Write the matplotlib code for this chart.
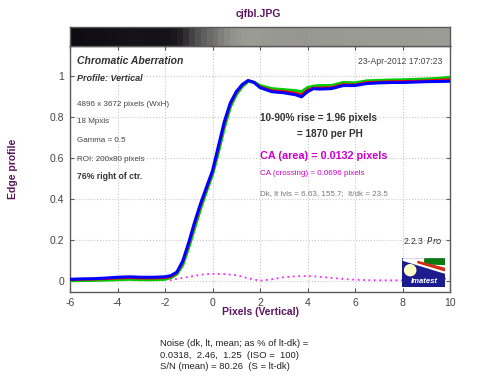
import matplotlib
matplotlib.use("Agg")
import matplotlib.pyplot as plt
import numpy as np
from matplotlib.colors import LinearSegmentedColormap
from matplotlib.patches import Polygon, Ellipse, Rectangle

plt.rcParams["font.family"] = ["Liberation Sans", "DejaVu Sans"]
plt.rcParams["axes.unicode_minus"] = False

# ---- edge profile data ----
x_px = [-6, -5.5, -5, -4.5, -4, -3.5, -3, -2.5, -2, -1.75, -1.5, -1.25, -1,
        -0.75, -0.5, -0.25, 0, 0.25, 0.5, 0.75, 1.0, 1.25, 1.5, 1.75, 2.0,
        2.5, 3.0, 3.5, 3.75, 4.0, 4.25, 4.5, 5.0, 5.5, 6.0, 6.5, 7.0, 7.5,
        8.0, 8.5, 9.0, 9.5, 10]
blue = [0.010, 0.012, 0.013, 0.016, 0.020, 0.022, 0.020, 0.020, 0.022, 0.028,
        0.045, 0.100, 0.190, 0.290, 0.380, 0.460, 0.540, 0.660, 0.780, 0.870,
        0.925, 0.960, 0.980, 0.970, 0.945, 0.925, 0.920, 0.910, 0.900, 0.925,
        0.940, 0.938, 0.940, 0.955, 0.955, 0.965, 0.968, 0.970, 0.970, 0.972,
        0.974, 0.975, 0.976]
red = [0.006, 0.008, 0.009, 0.011, 0.014, 0.016, 0.014, 0.014, 0.016, 0.022,
       0.040, 0.090, 0.178, 0.275, 0.368, 0.450, 0.530, 0.645, 0.765, 0.860,
       0.918, 0.955, 0.978, 0.972, 0.950, 0.932, 0.928, 0.920, 0.912, 0.935,
       0.945, 0.945, 0.947, 0.962, 0.960, 0.972, 0.974, 0.976, 0.977, 0.978,
       0.980, 0.983, 0.986]
green = [0.003, 0.004, 0.005, 0.006, 0.008, 0.010, 0.008, 0.008, 0.010, 0.018,
         0.035, 0.080, 0.165, 0.260, 0.355, 0.440, 0.520, 0.630, 0.750, 0.850,
         0.910, 0.950, 0.975, 0.972, 0.955, 0.940, 0.935, 0.930, 0.925, 0.945,
         0.952, 0.955, 0.955, 0.970, 0.968, 0.978, 0.980, 0.982, 0.983, 0.985,
         0.987, 0.990, 0.995]

# CA difference trace (magenta dotted)
x_ca = [-1.8, -1.5, -1.0, -0.5, 0.0, 0.5, 1.0, 1.5, 2.0, 2.5, 3.0, 3.5, 4.0,
        4.5, 5.0, 5.5, 6.0, 6.5, 7.0, 7.5, 8.0, 8.5, 9.0, 9.5, 10.0]
ca = [0.005, 0.012, 0.022, 0.032, 0.037, 0.035, 0.030, 0.015, 0.003, 0.010,
      0.020, 0.025, 0.026, 0.022, 0.017, 0.012, 0.008, 0.006, 0.005, 0.005,
      0.005, 0.006, 0.008, 0.012, 0.015]

x_ticks = [-6, -4, -2, 0, 2, 4, 6, 8, 10]
y_ticks = [0, 0.2, 0.4, 0.6, 0.8, 1.0]
y_ticklabels = ["0", "0.2", "0.4", "0.6", "0.8", "1"]

PURPLE = "#5a1460"
MAGENTA = "#cc00cc"
FRAME = "#5a5a5a"

fig = plt.figure(figsize=(5.0, 3.84), dpi=100)

# ---- main axes ----
ax = fig.add_axes([0.14, 0.2396, 0.76, 0.6406])
ax.plot(x_px, green, color="#00cc00", lw=2.2, zorder=3)
ax.plot(x_px, red, color="#ff0000", lw=1.4, zorder=4)
ax.plot(x_px, blue, color="#0000ff", lw=2.2, zorder=5)
ax.plot(x_ca, ca, color="#ff22ff", lw=1.3, ls=(0, (1, 2)), zorder=3)

ax.set_xlim(-6, 10)
ax.set_ylim(-0.052, 1.148)
ax.set_xticks(x_ticks)
ax.set_yticks(y_ticks)
ax.set_yticklabels(y_ticklabels)
ax.tick_params(direction="in", top=True, right=True, length=3, width=0.8,
               color=FRAME, labelsize=7.5, labelcolor="#444444", pad=4)
ax.grid(True, color="#c8c8c8", ls=":", lw=0.8)
for s in ax.spines.values():
    s.set_color(FRAME)
    s.set_linewidth(1.0)

tc = "#333333"
ax.text(0.018, 0.939, "Chromatic Aberration", transform=ax.transAxes,
        fontsize=7.5, fontweight="bold", fontstyle="italic", color=tc, va="center")
ax.text(0.018, 0.866, "Profile: Vertical", transform=ax.transAxes,
        fontsize=6.5, fontweight="bold", fontstyle="italic", color=tc, va="center")
for fy, s in [(0.764, "4896 x 3672 pixels (WxH)"), (0.692, "18 Mpxls"),
              (0.615, "Gamma = 0.5"), (0.537, "ROI: 200x80 pixels")]:
    ax.text(0.018, fy, s, transform=ax.transAxes, fontsize=5.8, color="#444444",
            va="center")
ax.text(0.018, 0.469, "76% right of ctr.", transform=ax.transAxes,
        fontsize=6.2, fontweight="bold", color=tc, va="center")
ax.text(0.979, 0.939, "23-Apr-2012 17:07:23", transform=ax.transAxes,
        fontsize=6.2, color="#444444", va="center", ha="right")

ax.text(0.5, 0.706, "10-90% rise = 1.96 pixels", transform=ax.transAxes,
        fontsize=7.2, fontweight="bold", color=tc, va="center")
ax.text(0.598, 0.641, "= 1870 per PH", transform=ax.transAxes,
        fontsize=7.2, fontweight="bold", color=tc, va="center")
ax.text(0.5, 0.553, "CA (area) = 0.0132 pixels", transform=ax.transAxes,
        fontsize=7.8, fontweight="bold", color=MAGENTA, va="center")
ax.text(0.5, 0.482, "CA (crossing) = 0.0696 pixels", transform=ax.transAxes,
        fontsize=5.8, color=MAGENTA, va="center")
ax.text(0.5, 0.401, "Dk, lt lvls = 6.63, 155.7;  lt/dk = 23.5",
        transform=ax.transAxes, fontsize=5.8, color="#777777", va="center")
ax.text(0.98, 0.208, "2.2.3  $\\it{Pro}$", transform=ax.transAxes,
        fontsize=6.2, color=tc, va="center", ha="right")

# ---- gradient bar above the plot (edge rendered as gray levels) ----
bar = fig.add_axes([0.14, 0.8802, 0.76, 0.0495])
cmap = LinearSegmentedColormap.from_list("edge", ["#0e0c12", "#9c9c96"])
levels = np.sqrt(np.array(red))
bar.pcolormesh(np.array(x_px), [0, 1], levels[:-1][None, :], cmap=cmap,
               vmin=levels.min(), vmax=levels.max(), shading="flat")
bar.set_xlim(-6, 10)
bar.set_ylim(0, 1)
bar.set_xticks([])
bar.set_yticks([])
for s in bar.spines.values():
    s.set_color(FRAME)
    s.set_linewidth(1.0)

# ---- Imatest logo ----
logo = fig.add_axes([0.804, 0.2526, 0.086, 0.0755])
logo.set_xlim(0, 1)
logo.set_ylim(0, 1)
logo.axis("off")
logo.add_patch(Rectangle((0, 0), 1, 1, color="#1c1c8e"))
logo.add_patch(Polygon([(0.03, 0.97), (1, 0.97), (1, 0.48), (0.03, 0.92)],
                       color="white"))
logo.add_patch(Polygon([(0.53, 0.97), (1, 0.97), (1, 0.78), (0.53, 0.8)],
                       color="#0a7a10"))
logo.add_patch(Polygon([(0.37, 0.88), (1, 0.64), (1, 0.56), (0.37, 0.84)],
                       color="#d42a10"))
logo.add_patch(Ellipse((0.19, 0.58), 0.26, 0.38, color="#ffffc8"))
logo.text(0.52, 0.2, "Imatest", color="white", fontsize=5.6, fontweight="bold",
          fontstyle="italic", ha="center", va="center")

# ---- titles / labels ----
fig.text(0.516, 0.9635, "cjfbl.JPG", ha="center", va="center", fontsize=7.5,
         fontweight="bold", color=PURPLE)
fig.text(0.026, 0.56, "Edge profile", ha="center", va="center", rotation=90,
         fontsize=7.5, fontweight="bold", color=PURPLE)
fig.text(0.52, 0.1875, "Pixels (Vertical)", ha="center", va="center",
         fontsize=7.5, fontweight="bold", color=PURPLE)

for fy, s in [(0.106, "Noise (dk, lt, mean; as % of lt-dk) ="),
              (0.0755, "0.0318,  2.46,  1.25  (ISO =  100)"),
              (0.045, "S/N (mean) = 80.26  (S = lt-dk)")]:
    fig.text(0.32, fy, s, fontsize=6.8, color="#222222", va="center")

fig.savefig("out.png", dpi=100)
